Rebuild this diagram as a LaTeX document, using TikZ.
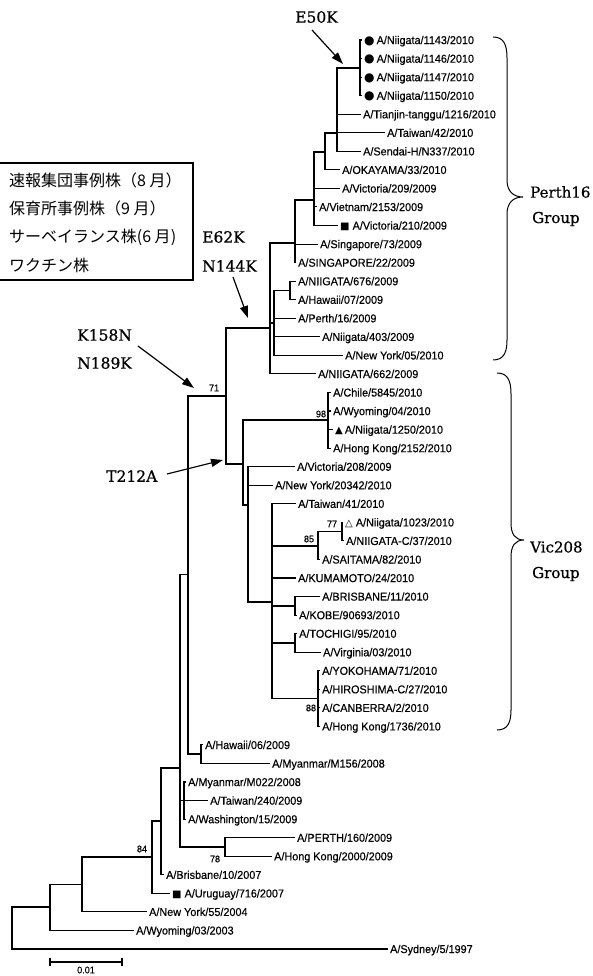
\documentclass[tikz,border=0pt]{standalone}
\usepackage{fontspec}
\setmainfont[FakeBold=0.4,FakeStretch=0.95]{Liberation Sans}
\newfontfamily\serifA[FakeBold=0.7]{DejaVu Serif}
\newfontfamily\cjk{Noto Sans CJK JP}
\newfontfamily\symf{DejaVu Sans}
\usetikzlibrary{arrows.meta}
\newcommand{\mkr}[2][11]{{\symf\fontsize{#1}{#1}\selectfont #2}}
\begin{document}
\begin{tikzpicture}[x=1pt,y=-1pt,
  br/.style={line width=1.1pt},
  leaf/.style={anchor=west, inner xsep=2pt, inner ysep=0pt, font=\fontsize{11.4}{13}\selectfont, text height=8.2pt, text depth=0pt},
  boot/.style={font=\fontsize{9.5}{10}\selectfont, inner sep=0pt},
  mut/.style={font=\serifA\fontsize{15.5}{17}\selectfont, inner sep=0pt, anchor=west},
  grp/.style={font=\serifA\fontsize{15}{17}\selectfont, inner sep=0pt, anchor=west},
  leg/.style={font=\cjk\fontsize{16}{17}\selectfont, inner sep=0pt, anchor=west},
  marr/.style={line width=1.2pt, -{Triangle[length=12pt,width=8pt]}},
  brace/.style={line width=1pt}
]
\useasboundingbox (0,0) rectangle (593,976);
\clip (0,0) rectangle (593,976);

% ---------------- leaves ----------------
\node[leaf] (L1) at (362,40.00) {\mkr[12]{●}\hspace{2pt}A/Niigata/1143/2010};
\node[leaf] (L2) at (362,58.55) {\mkr[12]{●}\hspace{2pt}A/Niigata/1146/2010};
\node[leaf] (L3) at (362,77.10) {\mkr[12]{●}\hspace{2pt}A/Niigata/1147/2010};
\node[leaf] (L4) at (362,95.65) {\mkr[12]{●}\hspace{2pt}A/Niigata/1150/2010};
\node[leaf] (L5) at (361,114.20) {A/Tianjin-tanggu/1216/2010};
\node[leaf] (L6) at (385,132.75) {A/Taiwan/42/2010};
\node[leaf] (L7) at (361,151.30) {A/Sendai-H/N337/2010};
\node[leaf] (L8) at (340,169.85) {A/OKAYAMA/33/2010};
\node[leaf] (L9) at (340,188.40) {A/Victoria/209/2009};
\node[leaf] (L10) at (317,206.95) {A/Vietnam/2153/2009};
\node[leaf] (L11) at (338,225.50) {\mkr[10]{■}\hspace{3pt}A/Victoria/210/2009};
\node[leaf] (L12) at (318,244.05) {A/Singapore/73/2009};
\node[leaf] (L13) at (296,262.60) {A/SINGAPORE/22/2009};
\node[leaf] (L14) at (296,281.15) {A/NIIGATA/676/2009};
\node[leaf] (L15) at (296,299.70) {A/Hawaii/07/2009};
\node[leaf] (L16) at (296,318.25) {A/Perth/16/2009};
\node[leaf] (L17) at (320,336.80) {A/Niigata/403/2009};
\node[leaf] (L18) at (343,355.35) {A/New York/05/2010};
\node[leaf] (L19) at (316,373.90) {A/NIIGATA/662/2009};
\node[leaf] (L20) at (331,392.45) {A/Chile/5845/2010};
\node[leaf] (L21) at (331,411.00) {A/Wyoming/04/2010};
\node[leaf] (L22) at (333,429.55) {\mkr[10]{▲}\hspace{2pt}A/Niigata/1250/2010};
\node[leaf] (L23) at (331,448.10) {A/Hong Kong/2152/2010};
\node[leaf] (L24) at (295,466.65) {A/Victoria/208/2009};
\node[leaf] (L25) at (273,485.20) {A/New York/20342/2010};
\node[leaf] (L26) at (296,503.75) {A/Taiwan/41/2010};
\node[leaf] (L27) at (343,522.30) {\mkr[10]{△}\hspace{3pt}A/Niigata/1023/2010};
\node[leaf] (L28) at (344,540.85) {A/NIIGATA-C/37/2010};
\node[leaf] (L29) at (320,559.40) {A/SAITAMA/82/2010};
\node[leaf] (L30) at (296,577.95) {A/KUMAMOTO/24/2010};
\node[leaf] (L31) at (320,596.50) {A/BRISBANE/11/2010};
\node[leaf] (L32) at (297,615.05) {A/KOBE/90693/2010};
\node[leaf] (L33) at (297,633.60) {A/TOCHIGI/95/2010};
\node[leaf] (L34) at (321,652.15) {A/Virginia/03/2010};
\node[leaf] (L35) at (320,670.70) {A/YOKOHAMA/71/2010};
\node[leaf] (L36) at (320,689.25) {A/HIROSHIMA-C/27/2010};
\node[leaf] (L37) at (320,707.80) {A/CANBERRA/2/2010};
\node[leaf] (L38) at (320,726.35) {A/Hong Kong/1736/2010};
\node[leaf] (L39) at (203,744.90) {A/Hawaii/06/2009};
\node[leaf] (L40) at (270,763.45) {A/Myanmar/M156/2008};
\node[leaf] (L41) at (186,782.00) {A/Myanmar/M022/2008};
\node[leaf] (L42) at (208,800.55) {A/Taiwan/240/2009};
\node[leaf] (L43) at (186,819.10) {A/Washington/15/2009};
\node[leaf] (L44) at (295,837.65) {A/PERTH/160/2009};
\node[leaf] (L45) at (272,856.20) {A/Hong Kong/2000/2009};
\node[leaf] (L46) at (164,874.75) {A/Brisbane/10/2007};
\node[leaf] (L47) at (170,893.30) {\mkr[10]{■}\hspace{3pt}A/Uruguay/716/2007};
\node[leaf] (L48) at (147,911.85) {A/New York/55/2004};
\node[leaf] (L49) at (134,930.40) {A/Wyoming/03/2003};
\node[leaf] (L50) at (388,948.95) {A/Sydney/5/1997};

% ---------------- internal nodes ----------------
\coordinate (R) at (12,928);
\coordinate (NB) at (50,907);
\coordinate (NC) at (82,884.4);
\coordinate (N84) at (152,857);
\coordinate (Nv) at (161,821);
\coordinate (Ns) at (180,768);
\coordinate (Nq) at (188,574.5);
\coordinate (Nr) at (201,754);
\coordinate (Nu) at (184,800.55);
\coordinate (Nt) at (225,847);
\coordinate (Nh) at (226,396);
\coordinate (Ne) at (270,328);
\coordinate (Nd) at (295,243);
\coordinate (Nc) at (314,200);
\coordinate (Nb) at (325,152);
\coordinate (Na) at (337,133);
\coordinate (Nnii) at (360,68);
\coordinate (Nf) at (274,323);
\coordinate (Ng) at (290,290.5);
\coordinate (Ni) at (243,464);
\coordinate (Nj) at (328,420);
\coordinate (Nk) at (248,505);
\coordinate (Nl) at (272,602);
\coordinate (Nm) at (318,546);
\coordinate (N77) at (342,531.6);
\coordinate (Nn) at (295,606);
\coordinate (No) at (295,643);
\coordinate (Np) at (318,698.5);

% ---------------- branches ----------------
\draw[br] (R) |- (NB);  \draw[br] (R) |- (L50.west);
\draw[br] (NB) |- (NC); \draw[br] (NB) |- (L49.west);
\draw[br] (NC) |- (N84); \draw[br] (NC) |- (L48.west);
\draw[br] (N84) |- (Nv); \draw[br] (N84) |- (L47.west);
\draw[br] (Nv) |- (Ns); \draw[br] (Nv) |- (L46.west);
\draw[br] (Ns) |- (Nq); \draw[br] (Ns) |- (Nu); \draw[br] (Ns) |- (Nt);
\draw[br] (Nq) |- (Nh); \draw[br] (Nq) |- (Nr);
\foreach \c in {L39,L40} \draw[br] (Nr) |- (\c.west);
\foreach \c in {L41,L42,L43} \draw[br] (Nu) |- (\c.west);
\foreach \c in {L44,L45} \draw[br] (Nt) |- (\c.west);
\draw[br] (Nh) |- (Ne); \draw[br] (Nh) |- (Ni);
\draw[br] (Ne) |- (Nd); \draw[br] (Ne) |- (Nf); \draw[br] (Ne) |- (L19.west);
\draw[br] (Nd) |- (Nc); \foreach \c in {L12,L13} \draw[br] (Nd) |- (\c.west);
\draw[br] (Nc) |- (Nb); \foreach \c in {L9,L10,L11} \draw[br] (Nc) |- (\c.west);
\draw[br] (Nb) |- (Na); \draw[br] (Nb) |- (L8.west);
\draw[br] (Na) |- (Nnii); \foreach \c in {L5,L6,L7} \draw[br] (Na) |- (\c.west);
\foreach \c in {L1,L2,L3,L4} \draw[br] (Nnii) |- (\c.west);
\draw[br] (Nf) |- (Ng); \foreach \c in {L16,L17,L18} \draw[br] (Nf) |- (\c.west);
\foreach \c in {L14,L15} \draw[br] (Ng) |- (\c.west);
\draw[br] (Ni) |- (Nj); \draw[br] (Ni) |- (Nk);
\foreach \c in {L20,L21,L22,L23} \draw[br] (Nj) |- (\c.west);
\draw[br] (Nk) |- (Nl); \foreach \c in {L24,L25} \draw[br] (Nk) |- (\c.west);
\draw[br] (Nl) |- (Nm); \draw[br] (Nl) |- (Nn); \draw[br] (Nl) |- (No); \draw[br] (Nl) |- (Np);
\foreach \c in {L26,L30} \draw[br] (Nl) |- (\c.west);
\draw[br] (Nm) |- (N77); \draw[br] (Nm) |- (L29.west);
\foreach \c in {L27,L28} \draw[br] (N77) |- (\c.west);
\foreach \c in {L31,L32} \draw[br] (Nn) |- (\c.west);
\foreach \c in {L33,L34} \draw[br] (No) |- (\c.west);
\foreach \c in {L35,L36,L37,L38} \draw[br] (Np) |- (\c.west);

% ---------------- bootstrap values ----------------
\node[boot] (b71) at (214,388) {71};
\node[boot] (b98) at (321,414) {98};
\node[boot] (b77) at (332,524) {77};
\node[boot] (b85) at (309,539) {85};
\node[boot] (b88) at (311,708) {88};
\node[boot] (b84) at (142,849) {84};
\node[boot] (b78) at (215,859) {78};

% ---------------- mutations ----------------
\node[mut] (mE50K) at (295,17) {E50K};
\node[mut] (mE62K) at (202,237) {E62K};
\node[mut] (mN144K) at (202,266) {N144K};
\node[mut] (mK158N) at (77,335) {K158N};
\node[mut] (mN189K) at (77,363) {N189K};
\node[mut] (mT212A) at (106,476) {T212A};
\coordinate (a1s) at (312,30);  \coordinate (a1e) at (343,64);
\coordinate (a2s) at (233,277); \coordinate (a2e) at (248,318);
\coordinate (a3s) at (138,346); \coordinate (a3e) at (194,388);
\coordinate (a4s) at (167,474); \coordinate (a4e) at (223,460);
\draw[marr] (a1s) -- (a1e);
\draw[marr] (a2s) -- (a2e);
\draw[marr] (a3s) -- (a3e);
\draw[marr] (a4s) -- (a4e);

% ---------------- braces ----------------
\draw[brace] (493,37) .. controls (504,37) and (507,45) .. (507,58) -- (507,180)
  .. controls (507,191) and (513,197) .. (523,197)
  .. controls (513,197) and (507,203) .. (507,214) -- (507,340)
  .. controls (507,352) and (504,360) .. (493,360);
\draw[brace] (497,373) .. controls (508,373) and (511,381) .. (511,394) -- (511,523)
  .. controls (511,534) and (515,540) .. (524,540)
  .. controls (515,540) and (511,546) .. (511,557) -- (511,710)
  .. controls (511,722) and (508,730) .. (497,730);
\node[grp] (gP1) at (530,192) {Perth16};
\node[grp] (gP2) at (532,219) {Group};
\node[grp] (gV1) at (530,547) {Vic208};
\node[grp] (gV2) at (532,574) {Group};

% ---------------- legend ----------------
\draw[line width=1.1pt] (-10,163) rectangle (193,280);
\node[leg] (lg1) at (9,180) {速報集団事例株（8 月）};
\node[leg] (lg2) at (9,208.5) {保育所事例株（9 月）};
\node[leg] (lg3) at (9,237) {サーベイランス株(6 月)};
\node[leg] (lg4) at (9,265) {ワクチン株};

% ---------------- scale bar ----------------
\coordinate (s1) at (50,962); \coordinate (s2) at (122,962);
\draw[line width=1.1pt] (s1) -- (s2);
\draw[line width=1.1pt] ([yshift=-4pt]s1) -- ([yshift=4pt]s1);
\draw[line width=1.1pt] ([yshift=-4pt]s2) -- ([yshift=4pt]s2);
\node[boot] (sl) at (86,970) {0.01};
\end{tikzpicture}
\end{document}
